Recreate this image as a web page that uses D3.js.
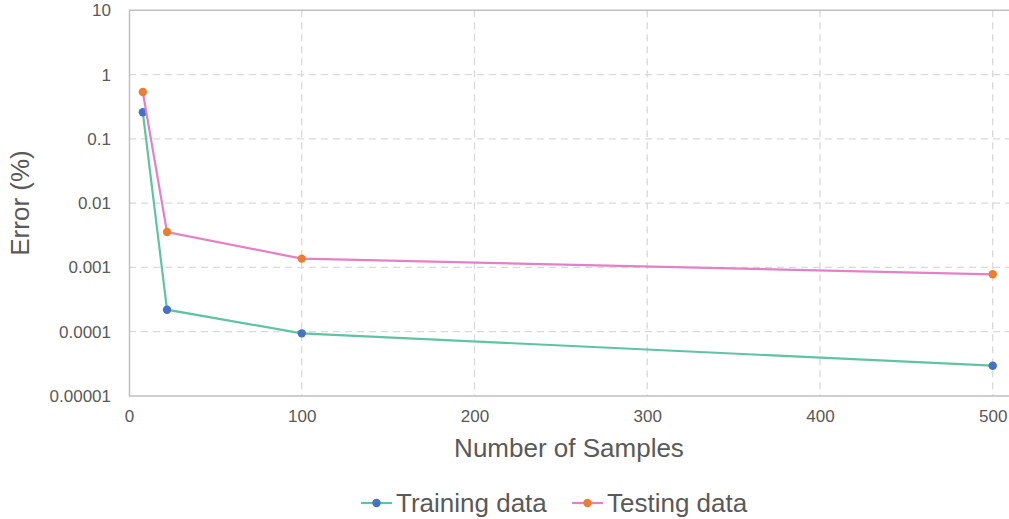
<!DOCTYPE html>
<html>
<head>
<meta charset="utf-8">
<script src="https://cdn.jsdelivr.net/npm/d3@7"></script>
<style>
  body { margin: 0; background: #fff; }
  svg { display: block; font-family: "Liberation Sans", Arial, sans-serif; }
</style>
</head>
<body>
<svg id="chart" width="1009" height="519"></svg>
<script>
const samples = [8, 22, 100, 500];
const trainingError = [0.259, 0.00022, 0.0000944, 0.0000296];
const testingError = [0.536, 0.00356, 0.00137, 0.000782];
const xTicks = [0, 100, 200, 300, 400, 500];
const yTicks = [10, 1, 0.1, 0.01, 0.001, 0.0001, 0.00001];
const yTickLabels = ["10", "1", "0.1", "0.01", "0.001", "0.0001", "0.00001"];
const seriesNames = ["Training data", "Testing data"];

const svg = d3.select("#chart");
const x = d3.scaleLinear().domain([0, 510]).range([129, 1010]);
const y = d3.scaleLog().domain([0.00001, 10]).range([396, 10.3]);

const gridColor = "#d9d9d9";
const axisColor = "#bfbfbf";
const textColor = "#595959";

// horizontal grid
svg.append("g").selectAll("line").data(yTicks.slice(1, -1)).join("line")
  .attr("x1", x(0)).attr("x2", 1009)
  .attr("y1", d => y(d)).attr("y2", d => y(d))
  .attr("stroke", gridColor).attr("stroke-width", 1.3)
  .attr("stroke-dasharray", "7,5");
// vertical grid
svg.append("g").selectAll("line").data(xTicks.slice(1)).join("line")
  .attr("x1", d => x(d)).attr("x2", d => x(d))
  .attr("y1", y(10)).attr("y2", y(0.00001))
  .attr("stroke", gridColor).attr("stroke-width", 1.3)
  .attr("stroke-dasharray", "7,5");

// top border
svg.append("line").attr("x1", x(0)).attr("x2", 1009)
  .attr("y1", y(10)).attr("y2", y(10))
  .attr("stroke", axisColor).attr("stroke-width", 1.5);

// axes
const xAxis = d3.axisBottom(x).tickValues(xTicks).tickSize(0).tickPadding(14);
const gx = svg.append("g").attr("transform", `translate(0,${y(0.00001)})`).call(xAxis);
gx.select(".domain").attr("d", `M${x(0)},0H1009`).attr("stroke", axisColor).attr("stroke-width", 1.5);
gx.selectAll("text").attr("fill", textColor).style("font-size", "17px").attr("dy", "0.71em");

const yAxis = d3.axisLeft(y).tickValues(yTicks).tickFormat((d, i) => yTickLabels[i]).tickSize(0).tickPadding(18);
const gy = svg.append("g").attr("transform", `translate(${x(0)},0)`).call(yAxis);
gy.select(".domain").attr("stroke", axisColor).attr("stroke-width", 1.5);
gy.selectAll("text").attr("fill", textColor).style("font-size", "17px");

// titles
svg.append("text").attr("x", 569).attr("y", 457)
  .attr("text-anchor", "middle").attr("fill", textColor)
  .style("font-size", "26px").text("Number of Samples");
svg.append("text").attr("transform", `translate(29,203) rotate(-90)`)
  .attr("text-anchor", "middle").attr("fill", textColor)
  .style("font-size", "26px").text("Error (%)");

// series
const series = [
  { name: seriesNames[0], values: trainingError, line: "#5fc4a0", marker: "#4472c4" },
  { name: seriesNames[1], values: testingError, line: "#e57fc8", marker: "#ed7d31" }
];
const lineGen = d3.line().x(d => x(d[0])).y(d => y(d[1]));
series.forEach(s => {
  const pts = samples.map((v, i) => [v, s.values[i]]);
  svg.append("path").datum(pts).attr("d", lineGen)
    .attr("fill", "none").attr("stroke", s.line).attr("stroke-width", 2.2);
  svg.append("g").selectAll("circle").data(pts).join("circle")
    .attr("cx", d => x(d[0])).attr("cy", d => y(d[1])).attr("r", 4.2)
    .attr("fill", s.marker);
});

// legend
const legendX = [361, 572];
series.forEach((s, i) => {
  const g = svg.append("g").attr("transform", `translate(${legendX[i]},503)`);
  g.append("line").attr("x1", 0).attr("x2", 31).attr("y1", 0).attr("y2", 0)
    .attr("stroke", s.line).attr("stroke-width", 2.2);
  g.append("circle").attr("cx", 15.5).attr("cy", 0).attr("r", 4.2).attr("fill", s.marker);
  g.append("text").attr("x", 35).attr("y", 0).attr("dy", "0.35em")
    .attr("fill", textColor).style("font-size", "26px").text(s.name);
});
</script>
</body>
</html>
